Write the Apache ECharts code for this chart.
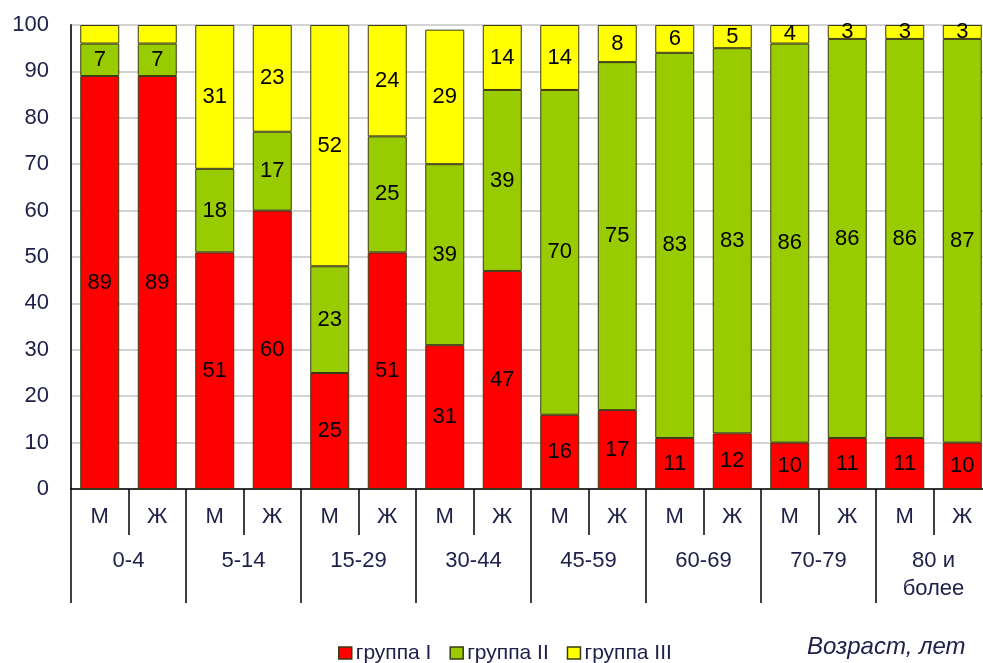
<!DOCTYPE html>
<html>
<head>
<meta charset="utf-8">
<script src="https://cdn.jsdelivr.net/npm/echarts@6/dist/echarts.min.js"></script>
<style>
  html, body { margin: 0; padding: 0; background: #fff; overflow: hidden; }
  /* the plot runs slightly past the right edge of the page */
  #chart { width: 995px; height: 663px; }
</style>
</head>
<body>
<div id="chart"></div>
<script>
// Age groups and sex of each bar
const ageGroups = ['0-4', '5-14', '15-29', '30-44', '45-59', '60-69', '70-79', '80 и\nболее'];
const sexes = ['М', 'Ж', 'М', 'Ж', 'М', 'Ж', 'М', 'Ж', 'М', 'Ж', 'М', 'Ж', 'М', 'Ж', 'М', 'Ж'];

// Shares by health group, %
const group1 = [89, 89, 51, 60, 25, 51, 31, 47, 16, 17, 11, 12, 10, 11, 11, 10];
const group2 = [7, 7, 18, 17, 23, 25, 39, 39, 70, 75, 83, 83, 86, 86, 86, 87];
const group3 = [4, 4, 31, 23, 52, 24, 29, 14, 14, 8, 6, 5, 4, 3, 3, 3];
// bars whose group III value is not printed
const hideLabel3 = [0, 1];

const yTicks = [0, 10, 20, 30, 40, 50, 60, 70, 80, 90, 100];

const FONT = 'Liberation Sans, Arial, sans-serif';
const TEXT = '#20204a';
const EDGE = '#3a3a10';

function makeSeries(name, values, color, hidden) {
  return {
    name: name,
    type: 'bar',
    stack: 'total',
    barWidth: 39,
    xAxisIndex: 0,
    data: values.map((v, i) => ({
      value: v,
      label: { show: !(hidden && hidden.includes(i)) }
    })),
    itemStyle: { color: color, borderColor: EDGE, borderWidth: 1 },
    label: {
      show: true,
      position: 'inside',
      color: '#000',
      fontFamily: FONT,
      fontSize: 22
    },
    emphasis: { disabled: true }
  };
}

const chart = echarts.init(document.getElementById('chart'), null, { renderer: 'canvas' });
chart.setOption({
  animation: false,
  backgroundColor: '#fff',
  grid: { left: 71, top: 25, width: 920, height: 464, containLabel: false },
  legend: {
    top: 641,
    left: 338,
    padding: 0,
    itemWidth: 13,
    itemHeight: 12,
    itemGap: 18,
    icon: 'rect',
    textStyle: { fontFamily: FONT, fontSize: 21, lineHeight: 24, color: TEXT, padding: [0, 0, 0, -1] },
    itemStyle: { borderColor: EDGE, borderWidth: 1.5 },
    data: ['группа I', 'группа II', 'группа III']
  },
  graphic: [{
    type: 'text',
    left: 807,
    top: 635,
    style: {
      text: 'Возраст, лет',
      font: 'italic 24px Liberation Sans, Arial, sans-serif',
      fill: TEXT
    }
  }],
  xAxis: [
    {
      type: 'category',
      data: sexes,
      position: 'bottom',
      axisLine: { lineStyle: { color: '#000', width: 1.5 } },
      axisTick: { show: true, interval: 0, length: 46, lineStyle: { color: '#000', width: 1.5 } },
      axisLabel: { interval: 0, margin: 15, fontFamily: FONT, fontSize: 22, lineHeight: 26, color: TEXT },
      splitLine: { show: false }
    },
    {
      type: 'category',
      data: ageGroups,
      position: 'bottom',
      axisLine: { show: false },
      axisTick: { show: true, interval: 0, length: 114, lineStyle: { color: '#000', width: 1.5 } },
      axisLabel: { interval: 0, margin: 58, fontFamily: FONT, fontSize: 22, color: TEXT, lineHeight: 28 },
      splitLine: { show: false }
    }
  ],
  yAxis: {
    type: 'value',
    min: yTicks[0],
    max: yTicks[yTicks.length - 1],
    interval: 10,
    axisLine: { show: true, lineStyle: { color: '#333', width: 2 } },
    axisTick: { show: false },
    axisLabel: { margin: 22, fontFamily: FONT, fontSize: 22, color: TEXT },
    splitLine: { show: true, lineStyle: { color: '#c4c4c4', width: 1.5 } }
  },
  series: [
    makeSeries('группа I', group1, '#ff0000'),
    makeSeries('группа II', group2, '#99cc00'),
    makeSeries('группа III', group3, '#ffff00', hideLabel3)
  ]
});
</script>
</body>
</html>
